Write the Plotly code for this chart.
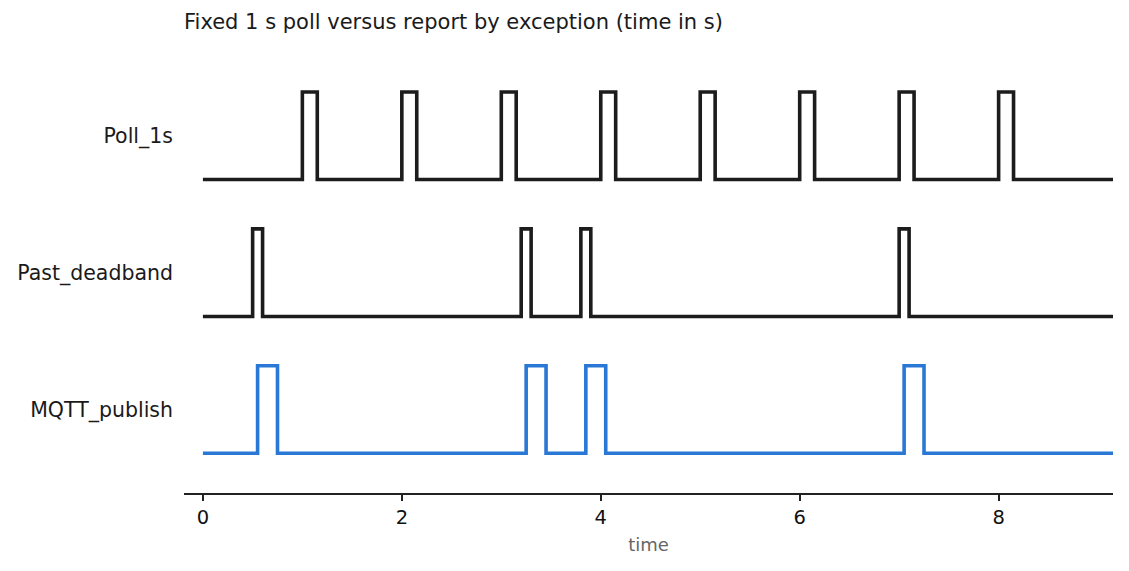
import plotly.graph_objects as go

# --- data (time in s) ---
LANES = ['MQTT_publish', 'Past_deadband', 'Poll_1s']   # bottom to top
LANE_BASE = [0, 1, 2]
PULSE_HIGH = 0.64
T_END = 9.15

poll_rise = [1, 2, 3, 4, 5, 6, 7, 8]
poll_fall = [1.15, 2.15, 3.15, 4.15, 5.15, 6.15, 7.15, 8.15]

deadband_rise = [0.5, 3.2, 3.8, 7.0]
deadband_fall = [0.6, 3.3, 3.9, 7.1]

mqtt_rise = [0.55, 3.25, 3.85, 7.05]
mqtt_fall = [0.75, 3.45, 4.05, 7.25]

X_TICKS = [0, 2, 4, 6, 8]

BLACK = '#1c1c1c'
BLUE = '#2a78d6'

# page has an 8px body margin, so size the figure to fit inside it
W, H = 1121, 563


def step_points(rise, fall, base):
    xs, ys = [0], [base]
    for r, f in zip(rise, fall):
        xs += [r, f]
        ys += [base + PULSE_HIGH, base]
    xs.append(T_END)
    ys.append(base)
    return xs, ys


fig = go.Figure()
series = [
    (mqtt_rise, mqtt_fall, LANE_BASE[0], BLUE),
    (deadband_rise, deadband_fall, LANE_BASE[1], BLACK),
    (poll_rise, poll_fall, LANE_BASE[2], BLACK),
]
for (rise, fall, base, color), name in zip(series, LANES):
    xs, ys = step_points(rise, fall, base)
    fig.add_trace(go.Scatter(x=xs, y=ys, mode='lines', name=name,
                             line=dict(shape='hv', color=color, width=3.6),
                             showlegend=False))

fig.update_layout(
    width=W, height=H,
    paper_bgcolor='white', plot_bgcolor='white',
    font=dict(family='DejaVu Sans', color='#1a1a1a'),
    margin=dict(l=176, r=16, t=47, b=78),
    title=dict(text='Fixed 1 s poll versus report by exception (time in s)',
               x=176 / W, xanchor='left', y=1 - 14 / H, yanchor='middle',
               font=dict(size=21, color='#1a1a1a')),
    xaxis=dict(range=[-0.19, T_END], tickvals=X_TICKS, showgrid=False, zeroline=False,
               showline=True, linecolor='#222', linewidth=1.5, automargin=False,
               ticks='outside', ticklen=6, tickwidth=1.5, tickcolor='#222',
               tickfont=dict(size=19.5, color='#111'),
               title=dict(text='time', font=dict(size=18, color='#666'), standoff=10)),
    yaxis=dict(range=[-0.29, 2.91], tickvals=[b + PULSE_HIGH / 2 for b in LANE_BASE],
               ticktext=LANES, showgrid=False, zeroline=False, showline=False,
               automargin=False, ticks='', ticklabelstandoff=10,
               tickfont=dict(size=20.5, color='#1a1a1a')),
)

fig.write_html('out.html')
